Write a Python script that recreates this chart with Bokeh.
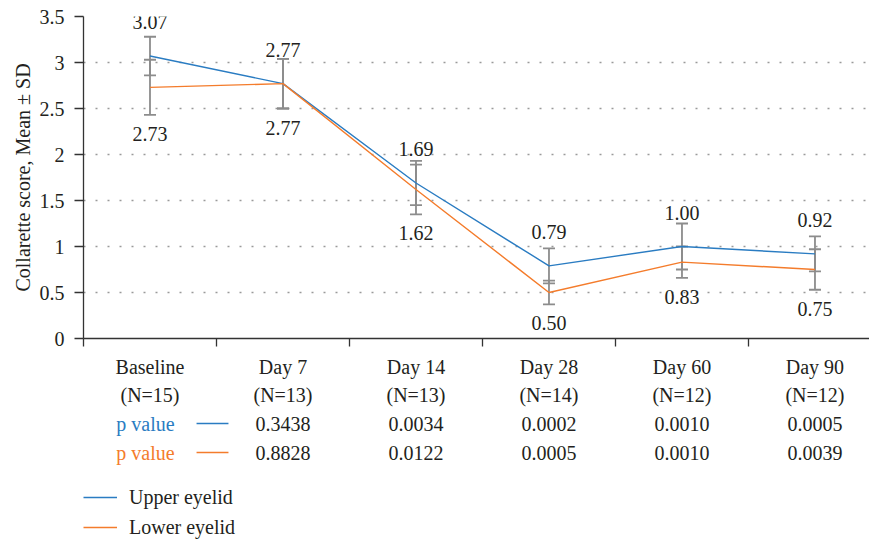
from bokeh.plotting import figure
from bokeh.models import (ColumnDataSource, LabelSet, Whisker, TeeHead, Range1d,
                          FixedTicker, Legend, LegendItem)
from bokeh.layouts import column
from bokeh.core.properties import value
from bokeh.embed import file_html
from bokeh.resources import INLINE

# ---------------- data ----------------
categories = ["Baseline", "Day 7", "Day 14", "Day 28", "Day 60", "Day 90"]
n_labels = ["(N=15)", "(N=13)", "(N=13)", "(N=14)", "(N=12)", "(N=12)"]
upper_mean = [3.07, 2.77, 1.69, 0.79, 1.00, 0.92]
upper_sd = [0.21, 0.27, 0.24, 0.19, 0.25, 0.19]
lower_mean = [2.73, 2.77, 1.62, 0.50, 0.83, 0.75]
lower_sd = [0.30, 0.27, 0.27, 0.13, 0.17, 0.22]
p_upper = ["0.3438", "0.0034", "0.0002", "0.0010", "0.0005"]
p_lower = ["0.8828", "0.0122", "0.0005", "0.0010", "0.0039"]
y_ticks = [0, 0.5, 1, 1.5, 2, 2.5, 3, 3.5]
y_tick_labels = ["0", "0.5", "1", "1.5", "2", "2.5", "3", "3.5"]

BLUE = "#2a7cc2"
ORANGE = "#f47c2c"
GRAY = "#8c8c8c"
TXT = "#231f20"
AX = "#333333"
FONT = "Liberation Serif"
FS = "20px"

x = [i + 0.5 for i in range(len(categories))]

src = ColumnDataSource(dict(
    x=x, cat=categories, n=n_labels,
    um=upper_mean, lm=lower_mean,
    u_hi=[m + s for m, s in zip(upper_mean, upper_sd)],
    u_lo=[m - s for m, s in zip(upper_mean, upper_sd)],
    l_hi=[m + s for m, s in zip(lower_mean, lower_sd)],
    l_lo=[m - s for m, s in zip(lower_mean, lower_sd)],
    ut=["%.2f" % v for v in upper_mean],
    lt=["%.2f" % v for v in lower_mean],
))
psrc = ColumnDataSource(dict(x=x[1:], pu=p_upper, pl=p_lower))

W = 869
xr = Range1d(0, 5.91)

# ---------------- main chart ----------------
p = figure(width=W, height=380, output_backend="svg", toolbar_location=None,
           x_range=xr, y_range=Range1d(0, 3.5),
           min_border_left=83, min_border_right=0, min_border_top=16,
           min_border_bottom=42)
p.outline_line_color = None

p.yaxis.ticker = FixedTicker(ticks=y_ticks)
p.yaxis.major_label_overrides = {t: l for t, l in zip(y_ticks, y_tick_labels)}
p.yaxis.axis_label = "Collarette score, Mean \u00b1 SD"
p.yaxis.axis_label_text_font = FONT
p.yaxis.axis_label_text_font_size = FS
p.yaxis.axis_label_text_font_style = "normal"
p.yaxis.axis_label_text_color = TXT
p.yaxis.axis_label_standoff = 3
p.yaxis.major_label_text_font = FONT
p.yaxis.major_label_text_font_size = FS
p.yaxis.major_label_text_color = TXT
p.yaxis.major_label_standoff = 10
p.yaxis.major_tick_out = 9
p.yaxis.major_tick_in = 0
p.yaxis.minor_tick_line_color = None
p.yaxis.axis_line_color = AX
p.yaxis.axis_line_width = 1.3
p.yaxis.major_tick_line_color = AX
p.yaxis.major_tick_line_width = 1.3

# x axis: category names at centres, tick marks at category boundaries
p.xaxis.ticker = FixedTicker(ticks=x, minor_ticks=list(range(len(categories) + 1)))
p.xaxis.major_label_overrides = {xi: c for xi, c in zip(x, categories)}
p.xaxis.major_label_text_font = FONT
p.xaxis.major_label_text_font_size = FS
p.xaxis.major_label_text_color = TXT
p.xaxis.major_label_standoff = 9
p.xaxis.major_tick_out = 8
p.xaxis.major_tick_in = 0
p.xaxis.major_tick_line_color = None
p.xaxis.minor_tick_out = 8
p.xaxis.minor_tick_in = 0
p.xaxis.minor_tick_line_color = AX
p.xaxis.minor_tick_line_width = 1.3
p.xaxis.axis_line_color = AX
p.xaxis.axis_line_width = 1.3

p.xgrid.grid_line_color = None
p.ygrid.grid_line_color = "#9a9a9a"
p.ygrid.grid_line_dash = "2 10"
p.ygrid.grid_line_width = 1.3

ul = p.line("x", "um", source=src, line_color=BLUE, line_width=1.4)
ll = p.line("x", "lm", source=src, line_color=ORANGE, line_width=1.4)

for lo, hi in (("u_lo", "u_hi"), ("l_lo", "l_hi")):
    p.add_layout(Whisker(source=src, base="x", lower=lo, upper=hi,
                         line_color=GRAY, line_width=1.8,
                         upper_head=TeeHead(size=12, line_color=GRAY, line_width=1.8),
                         lower_head=TeeHead(size=12, line_color=GRAY, line_width=1.8)))

common = dict(text_font=FONT, text_font_size=FS, text_color=TXT, text_align="center",
              text_baseline="middle")
p.add_layout(LabelSet(x="x", y="um", text="ut", source=src, y_offset=34, **common))
p.add_layout(LabelSet(x="x", y="l_lo", text="lt", source=src, y_offset=-19, **common))

# ---------------- table + legend below ----------------
t = figure(width=W, height=162, output_backend="svg", toolbar_location=None,
           x_range=xr, y_range=Range1d(162, 0),
           min_border_left=83, min_border_right=0, min_border_top=0,
           min_border_bottom=0, x_axis_location=None, y_axis_location=None)
t.outline_line_color = None
t.grid.grid_line_color = None

tcommon = dict(text_font=value(FONT), text_font_size=value(FS), text_align="center",
               text_baseline="middle")
t.text(x="x", y=14, text="n", source=src, text_color=TXT, **tcommon)
t.text(x="x", y=43, text="pu", source=psrc, text_color=TXT, **tcommon)
t.text(x="x", y=72, text="pl", source=psrc, text_color=TXT, **tcommon)
t.text(x=[0.466], y=[43], text=["p value"], text_color=BLUE, **tcommon)
t.text(x=[0.466], y=[72], text=["p value"], text_color=ORANGE, **tcommon)
t.segment(x0=[0.85], y0=[43], x1=[1.09], y1=[43], line_color=BLUE, line_width=1.4)
t.segment(x0=[0.85], y0=[72], x1=[1.09], y1=[72], line_color=ORANGE, line_width=1.4)

lu = t.line(x=[0], y=[0], line_color=BLUE, line_width=1.4, visible=False)
lw = t.line(x=[0], y=[0], line_color=ORANGE, line_width=1.4, visible=False)
legend = Legend(items=[LegendItem(label="Upper eyelid", renderers=[lu]),
                       LegendItem(label="Lower eyelid", renderers=[lw])],
                location=(0, 3), orientation="vertical",
                margin=0, padding=0, spacing=6, glyph_width=34, glyph_height=24,
                label_height=24, label_standoff=12,
                label_text_font=FONT, label_text_font_size=FS, label_text_color=TXT,
                border_line_color=None, background_fill_alpha=0)
t.add_layout(legend)

layout = column(p, t, spacing=0)
open("out.html", "w").write(file_html(layout, INLINE))
